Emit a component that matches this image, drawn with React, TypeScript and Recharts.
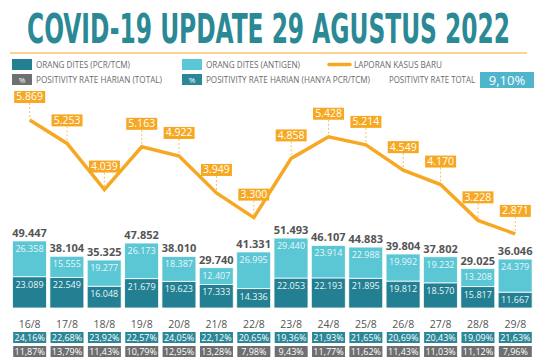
import React, { useLayoutEffect, useRef, useState } from 'react';
import { ComposedChart, Bar, Line, XAxis, YAxis, LabelList } from 'recharts';

const dates = ['16/8', '17/8', '18/8', '19/8', '20/8', '21/8', '22/8', '23/8', '24/8', '25/8', '26/8', '27/8', '28/8', '29/8'];
const kasusBaru = [5869, 5253, 4039, 5163, 4922, 3949, 3300, 4858, 5428, 5214, 4549, 4170, 3228, 2871];
const ditesPcr = [23089, 22549, 16048, 21679, 19623, 17333, 14336, 22053, 22193, 21895, 19812, 18570, 15817, 11667];
const ditesAntigen = [26358, 15555, 19277, 26173, 18387, 12407, 26995, 29440, 23914, 22988, 19992, 19232, 13208, 24379];
const rateHanyaPcr = ['24,16%', '22,68%', '23,92%', '22,57%', '24,05%', '22,12%', '20,65%', '19,36%', '21,93%', '21,65%', '20,69%', '20,43%', '19,09%', '21,63%'];
const rateTotal = ['11,87%', '13,79%', '11,43%', '10,79%', '12,95%', '13,28%', '7,98%', '9,43%', '11,77%', '11,62%', '11,43%', '11,03%', '11,12%', '7,96%'];

const DARK_TEAL = '#237f92';
const LIGHT_TEAL = '#5bc6d4';
const ORANGE = '#f7a823';
const GREY = '#6e6f71';
const FONT = "'Open Sans', 'Noto Sans', sans-serif";

const data = dates.map((d, i) => ({
  date: d,
  pcr: ditesPcr[i],
  antigen: ditesAntigen[i],
  total: ditesPcr[i] + ditesAntigen[i],
  kasus: kasusBaru[i],
}));

const fmt = (v: number) => String(v).replace(/\B(?=(\d{3})+(?!\d))/g, '.');

const DateTick = (props: any) => {
  const { x, y, payload, index } = props;
  return (
    <g>
      <text x={x} y={y + 12} textAnchor="middle" fontSize={10.5} fill="#555" fontFamily={FONT}>
        {payload.value}
      </text>
      <rect x={x - 16.5} y={y + 16} width={33} height={11} fill="#2b8797" />
      <text x={x} y={y + 24.5} textAnchor="middle" fontSize={9} fill="#fff" fontFamily={FONT}>
        {rateHanyaPcr[index]}
      </text>
      <rect x={x - 16.5} y={y + 30} width={33} height={11} fill={GREY} />
      <text x={x} y={y + 38.5} textAnchor="middle" fontSize={9} fill="#fff" fontFamily={FONT}>
        {rateTotal[index]}
      </text>
    </g>
  );
};

const SegmentLabel = (props: any) => {
  const { x, y, width, value } = props;
  return (
    <text x={x + width / 2} y={y + 11} textAnchor="middle" fontSize={9} fill="#eaf7f9" fontFamily={FONT}>
      {fmt(value)}
    </text>
  );
};

const TotalLabel = (props: any) => {
  const { x, y, width, index } = props;
  return (
    <text x={x + width / 2} y={y - 4} textAnchor="middle" fontSize={11} fontWeight="bold" fill="#555" fontFamily={FONT}>
      {fmt(data[index].total)}
    </text>
  );
};

const KasusLabel = (props: any) => {
  const { x, y, value } = props;
  const boxTop = y - 29;
  return (
    <g>
      <line x1={x} y1={boxTop + 12} x2={x} y2={y - 3} stroke={ORANGE} strokeWidth={1} strokeDasharray="2 2" opacity={0.7} />
      <rect x={x - 15.5} y={boxTop} width={31} height={12} fill={ORANGE} />
      <text x={x} y={boxTop + 9.5} textAnchor="middle" fontSize={10.5} fill="#fff" fontFamily={FONT}>
        {fmt(value)}
      </text>
    </g>
  );
};

const LegendText = ({ x, y, w, children }: { x: number; y: number; w: number; children: string }) => (
  <text x={x} y={y} fontSize={9} fill="#6b6b6b" fontFamily={FONT} textLength={w} lengthAdjust="spacingAndGlyphs">
    {children}
  </text>
);

// title squeezed to the width of the original's condensed face
const Title = () => {
  const ref = useRef<SVGTextElement>(null);
  const [sx, setSx] = useState(0.6);
  useLayoutEffect(() => {
    if (ref.current) {
      const w = ref.current.getComputedTextLength();
      if (w > 0) setSx(483 / w);
    }
  }, []);
  return (
    <text
      ref={ref}
      x={0}
      y={0}
      transform={`translate(27,43) scale(${sx},1)`}
      fontSize={41}
      fontWeight="bold"
      fill="#2a8995"
      fontFamily="'DejaVu Sans Condensed', 'Liberation Sans Narrow', 'Roboto', sans-serif"
    >
      COVID-19 UPDATE 29 AGUSTUS 2022
    </text>
  );
};

const App = () => {
  return (
    <div style={{ position: 'absolute', left: 0, top: 0, width: 537, height: 360, background: '#fff' }}>
      <svg width={537} height={90} style={{ position: 'absolute', left: 0, top: 0 }}>
        <Title />
        <line x1={10} y1={53} x2={527} y2={53} stroke="#fcc56c" strokeWidth={1.5} />

        <rect x={12} y={59} width={20} height={11} fill={DARK_TEAL} />
        <LegendText x={36} y={68} w={94}>ORANG DITES (PCR/TCM)</LegendText>
        <rect x={182} y={59} width={20} height={11} fill={LIGHT_TEAL} />
        <LegendText x={206} y={68} w={94}>ORANG DITES (ANTIGEN)</LegendText>
        <line x1={329} y1={64.5} x2={350} y2={64.5} stroke={ORANGE} strokeWidth={3.5} strokeLinecap="round" />
        <LegendText x={354} y={68} w={88}>LAPORAN KASUS BARU</LegendText>

        <rect x={12} y={74} width={20} height={11} fill={GREY} />
        <text x={22} y={82.5} textAnchor="middle" fontSize={8} fill="#fff" fontFamily={FONT}>%</text>
        <LegendText x={36} y={83} w={126}>POSITIVITY RATE HARIAN (TOTAL)</LegendText>
        <rect x={182} y={74} width={20} height={11} fill="#2b8797" />
        <text x={192} y={82.5} textAnchor="middle" fontSize={8} fill="#fff" fontFamily={FONT}>%</text>
        <LegendText x={206} y={83} w={164}>POSITIVITY RATE HARIAN (HANYA PCR/TCM)</LegendText>
        <LegendText x={389} y={83} w={86}>POSITIVITY RATE TOTAL</LegendText>
        <rect x={480} y={72} width={54} height={16} fill="#4eb5cc" />
        <text x={507} y={85} textAnchor="middle" fontSize={13} fill="#fff" fontFamily={FONT}>9,10%</text>
      </svg>

      <div style={{ position: 'absolute', left: 0, top: 0 }}>
        <ComposedChart
          width={537}
          height={360}
          data={data}
          margin={{ top: 90, right: 3, left: 11, bottom: 0 }}
          barCategoryGap={1.5}
        >
          <XAxis
            dataKey="date"
            axisLine={false}
            tickLine={false}
            interval={0}
            height={52}
            tick={<DateTick />}
          />
          <YAxis yAxisId="bar" hide width={0} domain={[0, 160650]} />
          <YAxis yAxisId="line" hide width={0} orientation="right" domain={[922, 6658]} />
          <Bar yAxisId="bar" dataKey="pcr" stackId="a" fill={DARK_TEAL} stroke="#fff" strokeWidth={0.8} isAnimationActive={false}>
            <LabelList dataKey="pcr" content={<SegmentLabel />} />
          </Bar>
          <Bar yAxisId="bar" dataKey="antigen" stackId="a" fill={LIGHT_TEAL} stroke="#fff" strokeWidth={0.8} isAnimationActive={false}>
            <LabelList dataKey="antigen" content={<SegmentLabel />} />
            <LabelList dataKey="total" content={<TotalLabel />} />
          </Bar>
          <Line
            yAxisId="line"
            dataKey="kasus"
            stroke={ORANGE}
            strokeWidth={3.5}
            dot={false}
            strokeLinejoin="miter"
            isAnimationActive={false}
          >
            <LabelList dataKey="kasus" content={<KasusLabel />} />
          </Line>
        </ComposedChart>
      </div>
    </div>
  );
};

export default App;
